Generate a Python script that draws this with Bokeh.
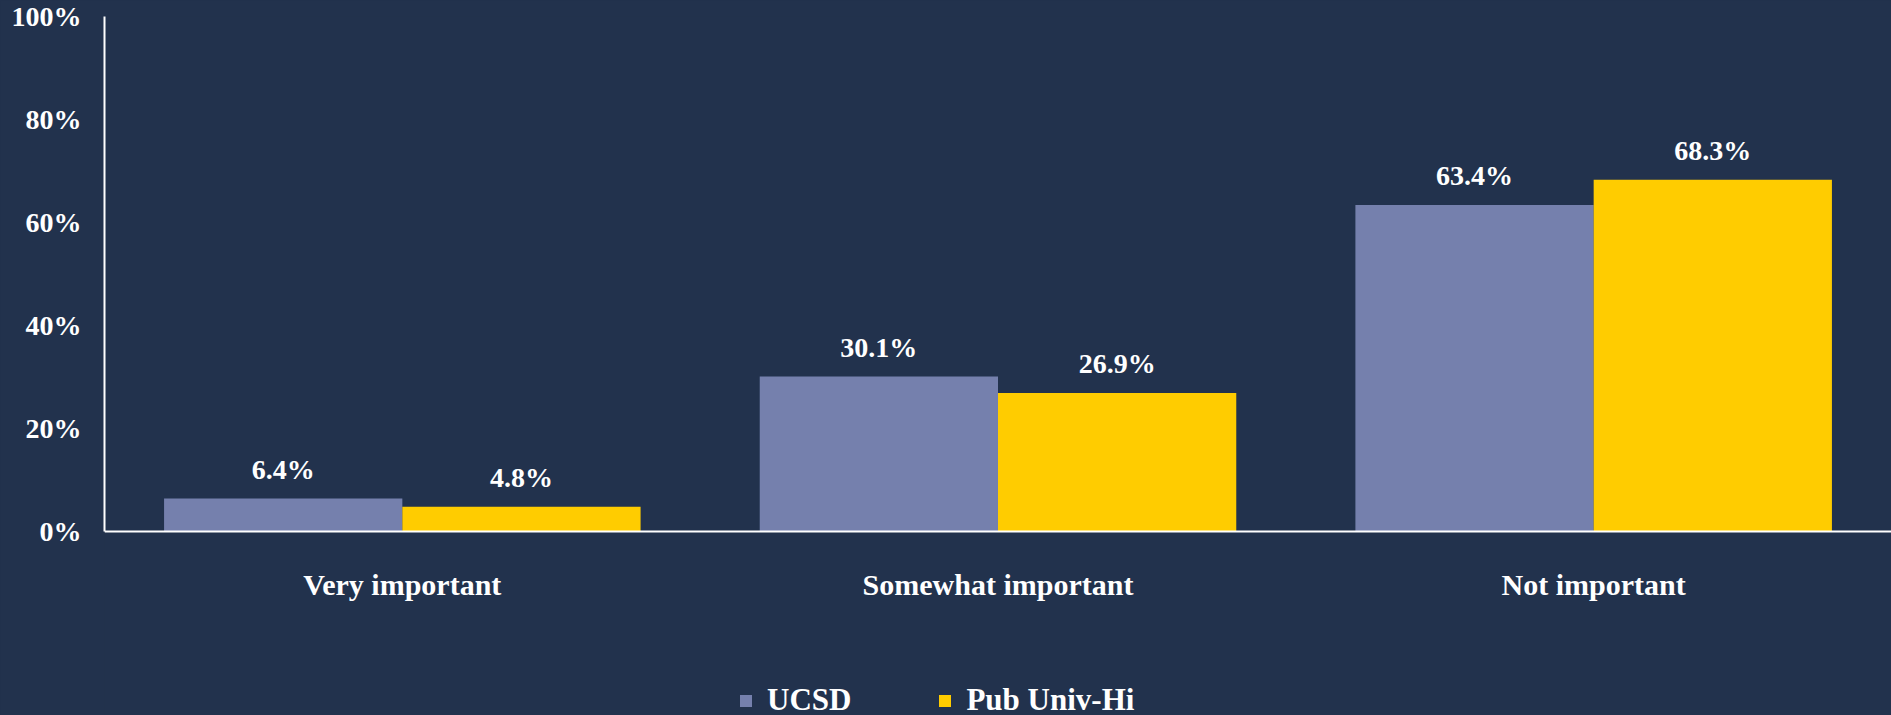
from bokeh.plotting import figure
from bokeh.models import ColumnDataSource, FixedTicker, Range1d, Legend, LegendItem
from bokeh.transform import dodge
from bokeh.core.properties import value
from bokeh.embed import file_html
from bokeh.resources import INLINE

categories = ["Very important", "Somewhat important", "Not important"]
ucsd = [6.4, 30.1, 63.4]
pub_univ_hi = [4.8, 26.9, 68.3]
series_names = ["UCSD", "Pub Univ-Hi"]
y_ticks = [0, 20, 40, 60, 80, 100]

BG = "#22324D"
C1 = "#7580AD"
C2 = "#FFCC00"
FONT = "Liberation Serif"

xpos = [i + 0.5 for i in range(len(categories))]
src = ColumnDataSource(dict(
    x=xpos, cat=categories, ucsd=ucsd, pub=pub_univ_hi,
    ucsd_lbl=[f"{v:.1f}%" for v in ucsd],
    pub_lbl=[f"{v:.1f}%" for v in pub_univ_hi],
))

W, H = 1891, 715
TOP = 16
# frame spans y 16..715; value 0 sits 515 px below the top (5.15 px per %)
y_start = 100 - (H - TOP) / 5.15
p = figure(width=W, height=H, output_backend="svg", toolbar_location=None,
           x_range=Range1d(0, 3), y_range=Range1d(y_start, 100),
           min_border_left=104, min_border_right=0, min_border_top=TOP,
           min_border_bottom=0)
p.background_fill_color = BG
p.border_fill_color = BG
p.outline_line_color = None
p.grid.visible = False

r1 = p.vbar(x=dodge("x", -0.2, range=p.x_range), top="ucsd", width=0.4,
            source=src, fill_color=C1, line_color=None)
r2 = p.vbar(x=dodge("x", 0.2, range=p.x_range), top="pub", width=0.4,
            source=src, fill_color=C2, line_color=None)

for col, lbl, dx in (("ucsd", "ucsd_lbl", -0.2), ("pub", "pub_lbl", 0.2)):
    p.text(x=dodge("x", dx, range=p.x_range), y=col, text=lbl, source=src,
           text_align="center", text_baseline="middle", y_offset=-29,
           text_color="white", text_font=value(FONT), text_font_style="bold",
           text_font_size="28px")

# axes
p.yaxis.ticker = FixedTicker(ticks=y_ticks)
p.yaxis.bounds = (0, 100)
p.yaxis.major_label_overrides = {t: f"{t}%" for t in y_ticks}
p.yaxis.major_tick_line_color = None
p.yaxis.major_tick_out = 0
p.yaxis.major_tick_in = 0
p.yaxis.minor_tick_line_color = None
p.yaxis.axis_line_color = "white"
p.yaxis.axis_line_width = 2
p.yaxis.major_label_text_color = "white"
p.yaxis.major_label_text_font = FONT
p.yaxis.major_label_text_font_style = "bold"
p.yaxis.major_label_text_font_size = "28px"
p.yaxis.major_label_standoff = 23

p.xaxis.fixed_location = 0
p.xaxis.ticker = FixedTicker(ticks=xpos)
p.xaxis.major_label_overrides = {x: c for x, c in zip(xpos, categories)}
p.xaxis.major_tick_line_color = None
p.xaxis.major_tick_out = 0
p.xaxis.major_tick_in = 0
p.xaxis.minor_tick_line_color = None
p.xaxis.axis_line_color = "white"
p.xaxis.axis_line_width = 2
p.xaxis.major_label_text_color = "white"
p.xaxis.major_label_text_font = FONT
p.xaxis.major_label_text_font_style = "bold"
p.xaxis.major_label_text_font_size = "30px"
p.xaxis.major_label_standoff = 36

legend = Legend(items=[LegendItem(label=series_names[0], renderers=[r1]),
                       LegendItem(label=series_names[1], renderers=[r2])],
                orientation="horizontal", location=(634, -3),
                background_fill_alpha=0, border_line_color=None,
                label_text_color="white", label_text_font=FONT,
                label_text_font_style="bold", label_text_font_size="31px",
                glyph_width=15, glyph_height=15, label_standoff=14,
                spacing=86, padding=0, margin=0)
p.add_layout(legend, "center")

html = file_html(p, INLINE)
html = html.replace("<head>", "<head><style>html,body{background:%s;overflow:hidden;}</style>" % BG, 1)
open("out.html", "w").write(html)
